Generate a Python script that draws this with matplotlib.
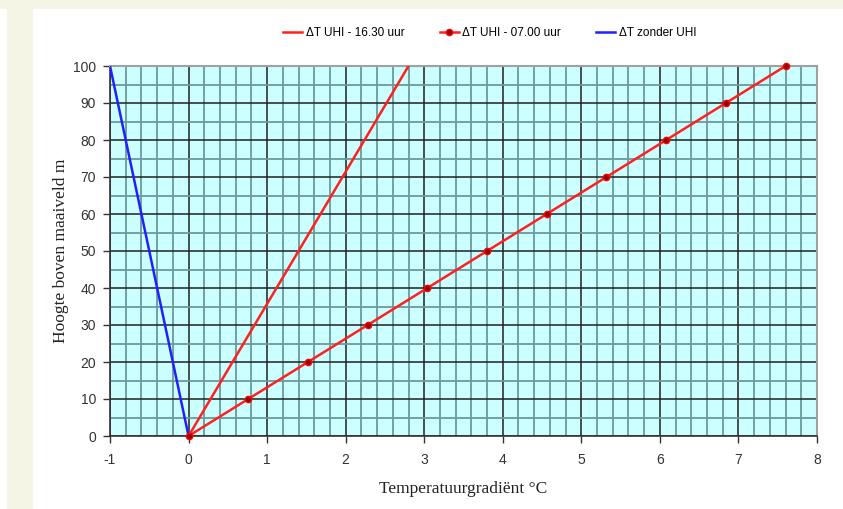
import matplotlib.pyplot as plt
import matplotlib.patches as mpatches
from matplotlib.ticker import MultipleLocator

plt.rcParams['axes.unicode_minus'] = False

# hoogte boven maaiveld (m)
hoogte = [0, 10, 20, 30, 40, 50, 60, 70, 80, 90, 100]
# temperatuurgradient 07.00 uur
dt_0700 = [0, 0.76, 1.52, 2.28, 3.04, 3.80, 4.56, 5.32, 6.08, 6.84, 7.60]
# 16.30 uur en zonder UHI: rechte lijnen
hoogte_1630 = [0, 100]
dt_1630 = [0, 2.8]
hoogte_zonder = [0, 100]
dt_zonder = [0, -1]

fig = plt.figure(figsize=(8.43, 5.09), dpi=100)
fig.patch.set_facecolor('white')
# beige rand links en boven
fig.patches.append(mpatches.Rectangle((0, 1 - 9 / 509), 1, 9 / 509, transform=fig.transFigure,
                                      facecolor='#f5f5e6', edgecolor='none', zorder=0))
fig.patches.append(mpatches.Rectangle((7 / 843, 0), 26 / 843, 1, transform=fig.transFigure,
                                      facecolor='#f5f5e6', edgecolor='none', zorder=0))

ax = fig.add_axes([110 / 843, 73 / 509, 707 / 843, 370 / 509])
ax.set_facecolor('#ccffff')

ax.plot(dt_1630, hoogte_1630, color='#ff2020', lw=1.8, label='ΔT UHI - 16.30 uur', zorder=5)
ax.plot(dt_0700, hoogte, color='#ff2020', lw=1.8, marker='o', markersize=4.5,
        markerfacecolor='#900000', markeredgecolor='#ff0000', label='ΔT UHI - 07.00 uur', zorder=6,
        clip_on=False)
ax.plot(dt_zonder, hoogte_zonder, color='#2020ff', lw=1.8, label='ΔT zonder UHI', zorder=5)

ax.set_xlim(-1, 8)
ax.set_ylim(0, 100)
ax.xaxis.set_major_locator(MultipleLocator(1))
ax.xaxis.set_minor_locator(MultipleLocator(0.2))
ax.yaxis.set_major_locator(MultipleLocator(10))
ax.yaxis.set_minor_locator(MultipleLocator(5))
ax.grid(which='minor', color='#6a9a9a', lw=1.3)
ax.grid(which='major', color='#202020', lw=1.1)
ax.set_axisbelow(True)
ax.tick_params(which='minor', length=0)
ax.tick_params(which='major', direction='out', length=5, width=1, color='#333333',
               labelsize=10, labelcolor='#333333')
ax.tick_params(axis='x', pad=7)
ax.tick_params(axis='y', pad=5)
for lbl in ax.get_xticklabels() + ax.get_yticklabels():
    lbl.set_family('Liberation Sans')

for side in ['top', 'right']:
    ax.spines[side].set_color('#a0a0a0')
    ax.spines[side].set_linewidth(1.5)
for side in ['left', 'bottom']:
    ax.spines[side].set_color('#333333')
    ax.spines[side].set_linewidth(1.2)

ax.set_xlabel('Temperatuurgradiënt °C', family='Liberation Serif', fontsize=12.5, color='#222222',
              labelpad=10)
ax.set_ylabel('Hoogte boven maaiveld m', family='Liberation Serif', fontsize=12.5, color='#222222',
              labelpad=3)

leg = ax.legend(loc='lower center', bbox_to_anchor=(0.537, 1.045), ncol=3, frameon=False,
                prop={'family': 'Liberation Sans', 'size': 8.5}, handlelength=1.6,
                handletextpad=0.3, columnspacing=3.0)

fig.savefig('out.png', dpi=100)
